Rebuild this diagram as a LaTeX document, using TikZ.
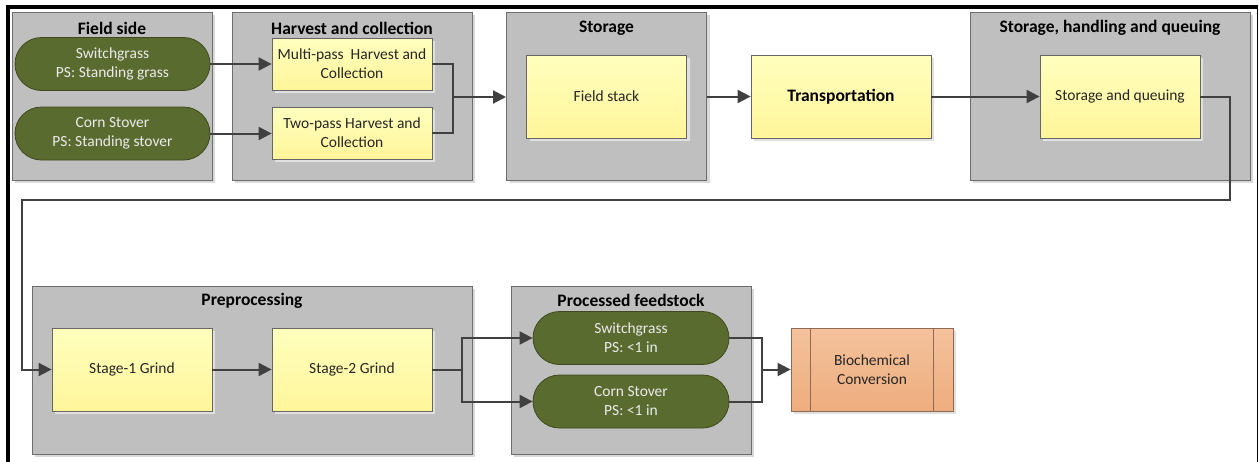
\documentclass[tikz,border=0pt]{standalone}
\usepackage{fontspec}
\setmainfont{Carlito}
\usetikzlibrary{arrows.meta,shapes.misc,shadows}
\definecolor{gris}{HTML}{BFBFBF}
\definecolor{grisB}{HTML}{6D6D6D}
\definecolor{trazo}{HTML}{404040}
\definecolor{amaTop}{HTML}{FFFFBE}
\definecolor{amaBot}{HTML}{FFF59A}
\definecolor{verde}{HTML}{5A6B2F}
\definecolor{verdeB}{HTML}{3E4A1E}
\definecolor{naTop}{HTML}{F4C29C}
\definecolor{naBot}{HTML}{EEAD7E}
\definecolor{naB}{HTML}{8C6A55}

\begin{document}
\begin{tikzpicture}[x=1pt,y=-1pt,
    every node/.style={font=\fontsize{15.5}{19}\selectfont,align=center,text=black!85,inner sep=2pt},
    grupo/.style={draw=grisB,fill=gris,line width=1pt,minimum height=168pt,
      drop shadow={shadow xshift=3pt,shadow yshift=-3pt,fill=black!15,opacity=1}},
    titulo/.style={font=\bfseries\fontsize{17.5}{21}\selectfont,text=black},
    caja/.style={draw=black!60,line width=0.8pt,top color=amaTop,bottom color=amaBot,minimum width=160pt,
      drop shadow={shadow xshift=3pt,shadow yshift=-3pt,fill=black!12,opacity=1}},
    pastilla/.style={rounded rectangle,draw=verdeB,fill=verde,text=white!92!black,line width=0.8pt,
      minimum width=200pt,minimum height=53pt},
    linea/.style={draw=trazo,line width=2pt},
    flecha/.style={linea,-{Triangle[length=13pt,width=13pt]}}]
    \useasboundingbox (0,0) rectangle (1259,461);

    \node[grupo,minimum width=200pt] (lado) at (112,96) {};
    \node[titulo] at (112,28) {Field side};
    \node[pastilla,minimum width=199pt] (sg1) at (112.5,64) {Switchgrass\\PS: Standing grass};
    \node[pastilla,minimum width=199pt] (cs1) at (112.5,133.5) {Corn Stover\\PS: Standing stover};

    \node[grupo,minimum width=240pt] (cosecha) at (352,96) {};
    \node[titulo] at (352,28) {Harvest and collection};
    \node[caja,minimum height=52pt] (mp) at (352,64) {Multi-pass\ \ Harvest and\\Collection};
    \node[caja,minimum height=52pt] (tp) at (352,133) {Two-pass Harvest and\\Collection};

    \node[grupo,minimum width=200pt] (almacen) at (606.5,96) {};
    \node[titulo] at (606.5,28) {Storage};
    \node[caja,minimum height=83pt] (pila) at (606.5,96.5) {Field stack};
    \node[caja,minimum width=180pt,minimum height=83pt,titulo] (trans) at (841,96.5) {Transportation};
    \node[grupo,minimum width=280pt] (cola) at (1110,96) {};
    \node[titulo] at (1110,28) {Storage, handling and queuing};
    \node[caja,minimum height=83pt] (sq) at (1120,96.5) {Storage and queuing};

    \node[grupo,minimum width=440pt] (prepro) at (252,370) {};
    \node[titulo] at (252,301) {Preprocessing};
    \node[caja,minimum height=83pt] (s1) at (132,369.5) {Stage-1 Grind};
    \node[caja,minimum height=83pt] (s2) at (352,369.5) {Stage-2 Grind};

    \node[grupo,minimum width=240pt] (procesado) at (631,370) {};
    \node[titulo] at (631,300) {Processed feedstock};
    \node[pastilla] (sg2) at (631,338) {Switchgrass\\PS: <1 in};
    \node[pastilla] (cs2) at (631,401.5) {Corn Stover\\PS: <1 in};
    \node[caja,minimum width=162pt,minimum height=83pt,top color=naTop,bottom color=naBot,draw=naB] (bio) at (872,369.5) {Biochemical\\Conversion};
    \draw[draw=naB,line width=0.8pt] ([xshift=20pt]bio.north west) -- ([xshift=20pt]bio.south west)
      ([xshift=-20pt]bio.north east) -- ([xshift=-20pt]bio.south east);

    \coordinate (j1) at (453,97);
    \coordinate (j2) at (462,369.5);
    \coordinate (j3) at (762,369.5);
    \coordinate (v1) at (1230,200);
    \coordinate (v2) at (22,200);

    \draw[flecha] (sg1.east) -- (mp.west);
    \draw[flecha] (cs1.east) -- (cs1.east -| tp.west);
    \draw[linea] (mp.east) -| (j1) |- (tp.east);
    \draw[flecha] (j1) -- (j1 -| almacen.west);
    \draw[flecha] (pila.east -| almacen.east) -- (trans.west);
    \draw[flecha] (trans.east) -- (sq.west);
    \draw[flecha] (sq.east) -| (v1) -- (v2) |- (s1.west);
    \draw[flecha] (s1.east) -- (s2.west);
    \draw[flecha] (s2.east) -- (j2) |- (sg2.west);
    \draw[flecha] (j2) |- (cs2.west);
    \draw[linea] (sg2.east) -| (j3) |- (cs2.east);
    \draw[flecha] (j3) -- (bio.west);

    \draw[line width=4pt] (8,470) -- (8,7) -- (1258,7);
    \draw[line width=1.5pt] (1257.5,7) -- (1257.5,470);
  \end{tikzpicture}
\end{document}
